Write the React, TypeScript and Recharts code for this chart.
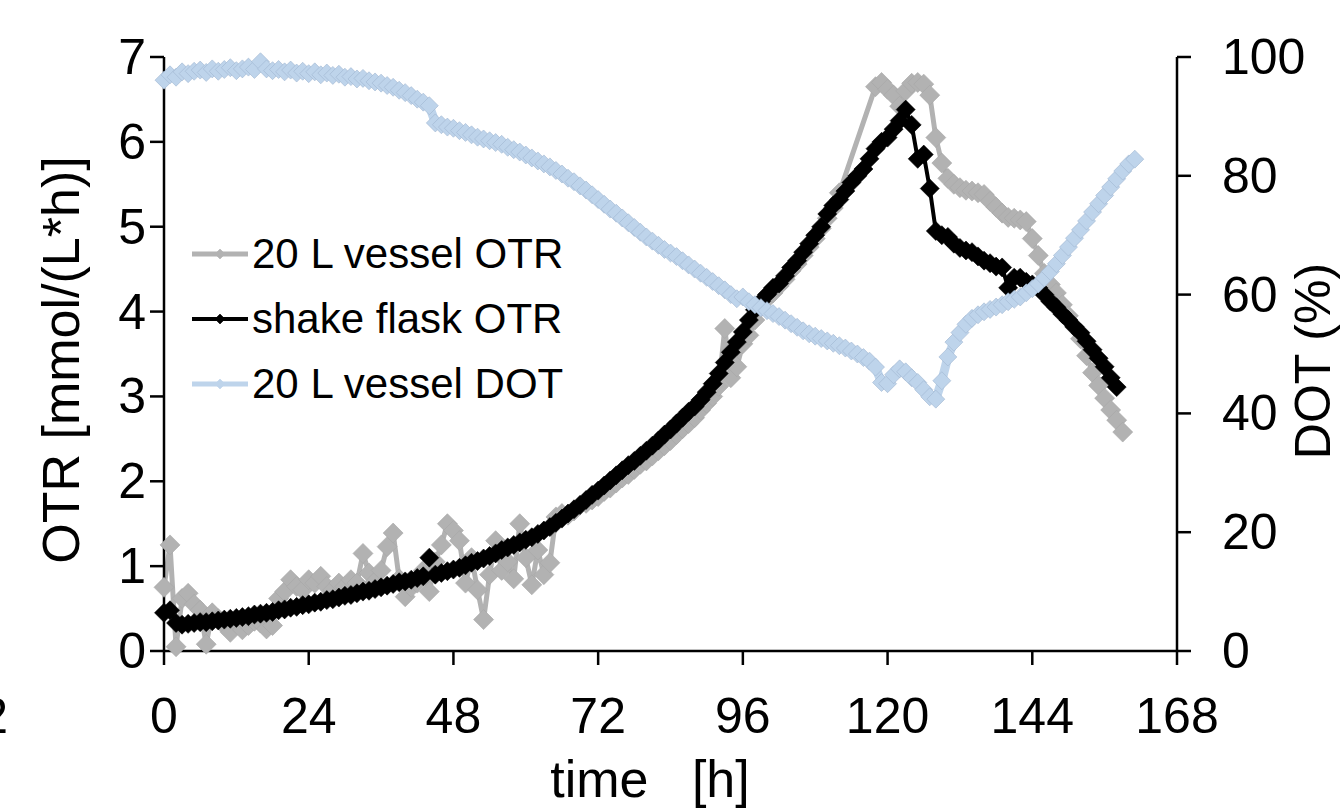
import React from "react";
import { LineChart, Line, XAxis, YAxis, Legend } from "recharts";

// hourly samples, starting at 0 h
const vesselOtr = [
  0.75, 1.25, 0.05, 0.62, 0.68, 0.55, 0.48, 0.08, 0.45, 0.38,
  0.3, 0.22, 0.33, 0.25, 0.3, 0.35, 0.33, 0.26, 0.3, 0.62,
  0.7, 0.84, 0.76, 0.72, 0.84, 0.8, 0.88, 0.76, 0.72, 0.8,
  0.76, 0.84, 0.8, 1.15, 0.92, 0.82, 0.95, 1.23, 1.39, 0.85,
  0.64, 0.75, 0.8, 0.95, 0.7, 1.05, 1.25, 1.5, 1.42, 1.3,
  0.8, 1.1, 0.72, 0.37, 0.9, 1.3, 0.95, 1.05, 0.85, 1.5,
  1.1, 0.78, 1.19, 0.9, 1.04, 1.58, 1.62, 1.6, 1.65, 1.72,
  1.74, 1.78, 1.82, 1.88, 1.92, 1.98, 2.04, 2.08, 2.14, 2.2,
  2.24, 2.3, 2.36, 2.42, 2.48, 2.55, 2.62, 2.68, 2.75, 2.84,
  2.92, 3.0, 3.12, 3.8, 3.22, 3.35, 3.62, 3.72, 3.9, 4.05,
  4.15, 4.22, 4.3, 4.38, 4.48, 4.56, 4.66, 4.76, 4.86, 4.98,
  5.1, 5.22, 5.4, null, null, null, null, null, 6.65, 6.7,
  6.62, 6.55, 6.42, 6.6, 6.69, 6.7, 6.68, 6.55, 6.05, 5.75,
  5.57, 5.5, 5.46, 5.43, 5.42, 5.4, 5.38, 5.3, 5.23, 5.16,
  5.11, 5.1, 5.08, 5.06, 4.86, 4.66, 4.45, 4.32, 4.22, 4.08,
  3.95, 3.82, 3.68, 3.48, 3.28, 3.13, 2.98, 2.84, 2.72, 2.58,
];

const flaskOtr = [
  0.45, 0.48, 0.33, 0.31, 0.32, 0.33, 0.34, 0.34, 0.35, 0.36,
  0.37, 0.38, 0.39, 0.4, 0.41, 0.43, 0.44, 0.45, 0.46, 0.48,
  0.49, 0.51, 0.52, 0.54, 0.55, 0.57, 0.58, 0.6, 0.61, 0.63,
  0.65, 0.66, 0.68, 0.7, 0.71, 0.73, 0.75, 0.77, 0.79, 0.81,
  0.82, 0.84, 0.86, 0.88, 1.1, 0.9, 0.92, 0.94, 0.96, 0.98,
  1.01, 1.04, 1.06, 1.09, 1.12, 1.15, 1.19, 1.22, 1.25, 1.28,
  1.31, 1.34, 1.38, 1.42, 1.46, 1.51, 1.56, 1.62, 1.67, 1.72,
  1.78, 1.84, 1.89, 1.95, 2.01, 2.07, 2.13, 2.19, 2.24, 2.3,
  2.36, 2.42, 2.48, 2.55, 2.61, 2.68, 2.75, 2.82, 2.88, 2.96,
  3.05, 3.15, 3.27, 3.4, 3.52, 3.64, 3.76, 3.9, 4.02, 4.12,
  4.2, 4.28, 4.33, 4.42, 4.52, 4.6, 4.7, 4.8, 4.9, 5.0,
  5.15, 5.25, 5.32, 5.42, 5.52, 5.6, 5.68, 5.8, 5.92, 6.0,
  6.05, 6.15, 6.25, 6.38, 6.2, 5.8, 5.85, 5.45, 4.95, 4.9,
  4.88, 4.8, 4.75, 4.72, 4.7, 4.65, 4.6, 4.57, 4.53, 4.52,
  4.28, 4.4, 4.4, 4.35, 4.32, 4.28, 4.2, 4.12, 4.05, 3.97,
  3.9, 3.82, 3.75, 3.65, 3.55, 3.45, 3.35, 3.22, 3.11,
];

const vesselDot = [
  96.1, 97.0, 96.6, 97.5, 97.2, 97.6, 97.8, 97.4, 98.0, 97.6,
  97.9, 98.2, 97.7, 98.0, 98.3, 97.9, 99.2, 98.0, 97.7, 97.9,
  97.5, 97.8, 97.3, 97.6, 97.2, 97.5, 97.0, 97.3, 96.9, 97.1,
  96.6, 96.7, 96.3, 96.4, 96.0, 95.8, 95.6, 95.2, 94.9, 94.4,
  94.0, 93.5, 92.9, 92.4, 91.8, 88.9, 88.6, 88.2, 88.0, 87.6,
  87.3, 86.9, 86.5, 86.2, 85.9, 85.6, 85.3, 84.8, 84.4, 84.0,
  83.5, 83.0, 82.5, 82.0, 81.5, 80.9, 80.3, 79.6, 79.0, 78.3,
  77.6, 76.8, 76.0, 75.2, 74.4, 73.7, 72.9, 72.1, 71.3, 70.5,
  69.7, 69.0, 68.3, 67.6, 67.0, 66.4, 65.7, 65.0, 64.3, 63.6,
  62.9, 62.2, 61.5, 60.8, 60.0, 59.3, 59.6, 58.8, 58.3, 57.8,
  57.3, 56.8, 56.3, 55.7, 55.1, 54.5, 53.9, 53.4, 53.0, 52.6,
  52.2, 51.8, 51.4, 51.0, 50.5, 50.0, 49.4, 48.8, 47.8, 45.2,
  45.0, 46.5, 47.5, 47.0, 46.0, 45.2, 44.0, 42.8, 42.4, 45.5,
  49.5, 52.0, 53.6, 55.0, 56.0, 56.6, 57.1, 57.5, 57.9, 58.3,
  58.8, 59.2, 59.6, 60.3, 61.0, 61.8, 62.8, 63.9, 65.2, 66.6,
  68.0, 69.5, 70.9, 72.4, 73.9, 75.3, 76.7, 78.1, 79.5, 80.8,
  82.0, 82.8,
];

const timeTicks = [0, 24, 48, 72, 96, 120, 144, 168];
const otrTicks = [0, 1, 2, 3, 4, 5, 6, 7];
const dotTicks = [0, 20, 40, 60, 80, 100];

const FONT = '"Liberation Sans", Arial, Helvetica, sans-serif';
const GRAY = "#b2b2b2";
const BLUE = "#bed4eb";

const toRows = (vals: (number | null)[]) => vals.map((v, i) => ({ t: i, v }));

const series = [
  { name: "20 L vessel OTR", color: GRAY, edge: "#a6a6a6", width: 5, size: 10, axis: "otr", rows: toRows(vesselOtr) },
  { name: "shake flask OTR", color: "#000000", edge: "#000000", width: 4, size: 9.5, axis: "otr", rows: toRows(flaskOtr) },
  { name: "20 L vessel DOT", color: BLUE, edge: "#9fb6d0", width: 9, size: 9, axis: "dot", rows: toRows(vesselDot) },
];

function Diamond({ cx, cy, r, fill, edge }: { cx: number; cy: number; r: number; fill: string; edge?: string }) {
  return (
    <polygon
      points={`${cx},${cy - r} ${cx + r},${cy} ${cx},${cy + r} ${cx - r},${cy}`}
      fill={fill}
      stroke={edge || fill}
      strokeWidth={0.6}
    />
  );
}

function LegendBox() {
  return (
    <div style={{ fontFamily: FONT, fontSize: 42, color: "#000" }}>
      {series.map((s) => (
        <div key={s.name} style={{ display: "flex", alignItems: "center", height: 65 }}>
          <svg width={60} height={20} style={{ display: "block" }}>
            <line x1={0} x2={56} y1={10} y2={10} stroke={s.color} strokeWidth={s.name.includes("DOT") ? 5 : s.width} />
            <Diamond cx={28} cy={10} r={5} fill={s.color} />
          </svg>
          <span style={{ whiteSpace: "nowrap", lineHeight: 1 }}>{s.name}</span>
        </div>
      ))}
    </div>
  );
}

const tickText = { fontFamily: FONT, fontSize: 50, fill: "#000" };
const titleText = { fontFamily: FONT, fontSize: 52, fill: "#000" };

export default function App() {
  return (
    <div style={{ position: "absolute", left: 0, top: 0, width: 1342, height: 810, background: "#fff" }}>
      <LineChart width={1342} height={810} margin={{ top: 57, right: 0, bottom: 0, left: 0 }}>
        <XAxis
          dataKey="t"
          type="number"
          domain={[0, 168]}
          ticks={timeTicks}
          height={159}
          tickSize={14}
          axisLine={{ stroke: "#000", strokeWidth: 2.5 }}
          tickLine={{ stroke: "#000", strokeWidth: 2.5 }}
          tick={(p: any) => (
            <text x={p.x} y={p.y + 49} textAnchor="middle" dominantBaseline="central" {...tickText}>
              {p.payload.value}
            </text>
          )}
          label={() => (
            <g>
              <text x={650} y={779} textAnchor="middle" dominantBaseline="central" style={{ whiteSpace: "pre" }} {...titleText}>
                {"time   [h]"}
              </text>
              <text x={8} y={716} textAnchor="end" dominantBaseline="central" {...tickText}>
                2
              </text>
            </g>
          )}
        />
        <YAxis
          yAxisId="otr"
          domain={[0, 7]}
          ticks={otrTicks}
          width={164}
          tickSize={14}
          axisLine={{ stroke: "#000", strokeWidth: 2.5 }}
          tickLine={{ stroke: "#000", strokeWidth: 2.5 }}
          tick={(p: any) => (
            <text x={146} y={p.y} textAnchor="end" dominantBaseline="central" {...tickText}>
              {p.payload.value}
            </text>
          )}
          label={() => (
            <text
              x={61}
              y={360}
              transform="rotate(-90 61 360)"
              textAnchor="middle"
              dominantBaseline="central"
              {...titleText}
            >
              OTR [mmol/(L*h)]
            </text>
          )}
        />
        <YAxis
          yAxisId="dot"
          orientation="right"
          domain={[0, 100]}
          ticks={dotTicks}
          width={165}
          tickSize={14}
          axisLine={{ stroke: "#000", strokeWidth: 2.5 }}
          tickLine={{ stroke: "#000", strokeWidth: 2.5 }}
          tick={(p: any) => (
            <text x={1222} y={p.y} textAnchor="start" dominantBaseline="central" {...tickText}>
              {p.payload.value}
            </text>
          )}
          label={() => (
            <text
              x={1313}
              y={361}
              transform="rotate(-90 1313 361)"
              textAnchor="middle"
              dominantBaseline="central"
              {...titleText}
              fontSize={50}
            >
              DOT (%)
            </text>
          )}
        />
        <Legend
          layout="vertical"
          align="center"
          verticalAlign="middle"
          content={() => <LegendBox />}
          wrapperStyle={{ position: "absolute", left: 192, top: 221, width: 420, height: 200 }}
        />
        {series.map((s) => (
          <Line
            key={s.name}
            name={s.name}
            data={s.rows}
            dataKey="v"
            yAxisId={s.axis}
            stroke={s.color}
            strokeWidth={s.width}
            connectNulls
            isAnimationActive={false}
            legendType="none"
            dot={(p: any) =>
              p.cx == null || p.cy == null || p.value == null ? (
                <g key={p.index} />
              ) : (
                <Diamond key={p.index} cx={p.cx} cy={p.cy} r={s.size} fill={s.color} edge={s.edge} />
              )
            }
            activeDot={false}
          />
        ))}
      </LineChart>
    </div>
  );
}
